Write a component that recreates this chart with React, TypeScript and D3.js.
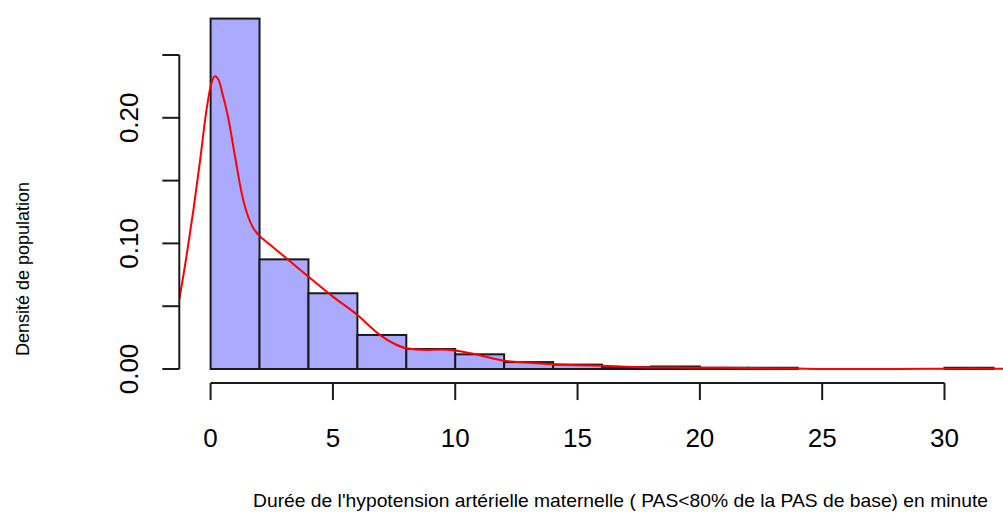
import React from "react";
import * as d3 from "d3";

// Histogram bins (minutes) and densities
const binStarts = [0, 2, 4, 6, 8, 10, 12, 14, 16, 18, 20, 22, 24, 26, 28, 30];
const binDensity = [0.279, 0.0873, 0.0603, 0.0271, 0.0159, 0.0117, 0.0055, 0.0035, 0.0015, 0.002, 0.001, 0.001, 0, 0, 0, 0.001];
const binWidth = 2;

// Kernel density curve
const densX = [-1.31, -1.0, -0.7, -0.43, -0.2, 0.0, 0.18, 0.35, 0.5, 0.72, 1.0, 1.27, 1.54, 1.75, 1.95, 2.43, 3.11, 4.0, 5.0, 6.0, 6.93, 7.47, 8.0, 8.8, 9.4, 10.0, 11.0, 12.0, 13.0, 14.0, 15.0, 16.0, 17.0, 18.0, 19.0, 20.0, 22.0, 24.0, 25.0, 28.0, 30.0, 31.0, 33.3];
const densY = [0.052, 0.088, 0.127, 0.166, 0.202, 0.225, 0.233, 0.229, 0.218, 0.2, 0.169, 0.14, 0.121, 0.112, 0.107, 0.099, 0.088, 0.0735, 0.0576, 0.043, 0.027, 0.0205, 0.0165, 0.0151, 0.0155, 0.0148, 0.011, 0.0066, 0.005, 0.0038, 0.003, 0.0025, 0.0018, 0.0012, 0.0012, 0.001, 0.0008, 0.0003, 0.0, 0.0, 0.0002, 0.0003, 0.0001];

const xTicks = [0, 5, 10, 15, 20, 25, 30];
const yTicks = [0, 0.05, 0.1, 0.15, 0.2, 0.25];
const yTickLabels = ["0.00", "", "0.10", "", "0.20", ""];

const xTitle = "Durée de l'hypotension artérielle maternelle ( PAS<80% de la PAS de base) en minute";
const yTitle = "Densité de population";

export default function App() {
  const W = 1003, H = 520;
  const x = d3.scaleLinear().domain([0, 30]).range([210.6, 944.5]);
  const y = d3.scaleLinear().domain([0, 0.25]).range([369, 55]);
  const plotL = x(-1.28), plotR = x(33.28);
  const plotT = y(0.2912), plotB = y(-0.0112);
  const font = "'Liberation Sans', Arial, Helvetica, sans-serif";

  const line = d3
    .line<number>()
    .x((_, i) => x(densX[i]))
    .y((d) => y(d))
    .curve(d3.curveMonotoneX);

  const axisY = plotB;
  const axisX = plotL;

  return (
    <svg width={W} height={H} style={{ position: "absolute", left: 0, top: 0, background: "#fff" }}>
      <defs>
        <clipPath id="plotclip">
          <rect x={plotL} y={plotT} width={plotR - plotL} height={plotB - plotT} />
        </clipPath>
      </defs>
      {/* bars */}
      <g>
        {binStarts.map((b, i) =>
          binDensity[i] > 0 ? (
            <rect
              key={i}
              x={x(b)}
              y={y(binDensity[i])}
              width={x(b + binWidth) - x(b)}
              height={y(0) - y(binDensity[i])}
              fill="#aaaaff"
              stroke="#1a1a1a"
              strokeWidth={2}
            />
          ) : null
        )}
      </g>
      {/* density */}
      <path d={line(densY) || ""} fill="none" stroke="#ff0000" strokeWidth={2} clipPath="url(#plotclip)" />
      {/* x axis */}
      <g stroke="#1a1a1a" strokeWidth={2} fill="none">
        <line x1={x(xTicks[0])} x2={x(xTicks[xTicks.length - 1])} y1={axisY} y2={axisY} />
        {xTicks.map((t) => (
          <line key={t} x1={x(t)} x2={x(t)} y1={axisY} y2={axisY + 17} />
        ))}
      </g>
      {xTicks.map((t) => (
        <text key={t} x={x(t)} y={447} textAnchor="middle" fontFamily={font} fontSize={26} fill="#000">
          {t}
        </text>
      ))}
      {/* y axis */}
      <g stroke="#1a1a1a" strokeWidth={2} fill="none">
        <line x1={axisX} x2={axisX} y1={y(yTicks[0])} y2={y(yTicks[yTicks.length - 1])} />
        {yTicks.map((t) => (
          <line key={t} x1={axisX - 17} x2={axisX} y1={y(t)} y2={y(t)} />
        ))}
      </g>
      {yTicks.map((t, i) =>
        yTickLabels[i] ? (
          <text
            key={t}
            transform={`translate(138,${y(t)}) rotate(-90)`}
            textAnchor="middle"
            fontFamily={font}
            fontSize={26}
            fill="#000"
          >
            {yTickLabels[i]}
          </text>
        ) : null
      )}
      {/* titles */}
      <text x={253} y={507} fontFamily={font} fontSize={18.5} fill="#000" textLength={735} lengthAdjust="spacingAndGlyphs">
        {xTitle}
      </text>
      <text transform="translate(29,269) rotate(-90)" textAnchor="middle" fontFamily={font} fontSize={18} fill="#000">
        {yTitle}
      </text>
    </svg>
  );
}
